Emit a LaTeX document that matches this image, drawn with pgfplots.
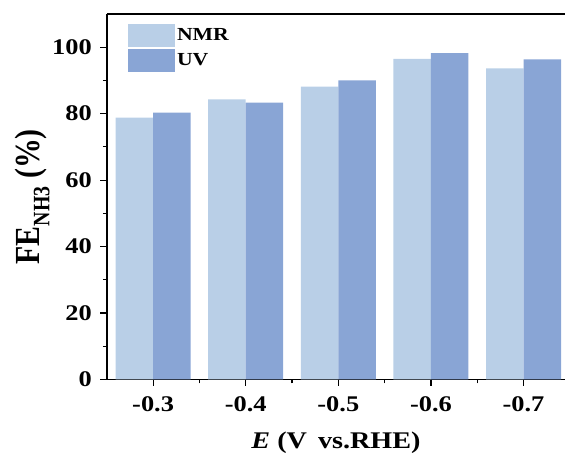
\documentclass[border=0pt]{standalone}
\usepackage{pgfplots}
\pgfplotsset{compat=1.18}
\usepackage{fontspec}
\setmainfont{Liberation Serif}[FakeStretch=1.18]
\newfontfamily\ylabfont{Liberation Serif}
\definecolor{nmr}{HTML}{B9CFE7}
\definecolor{uv}{HTML}{89A5D5}

\pgfplotstableread{
x NMR UV
0 78.8 80.3
1 84.3 83.3
2 88.1 90.0
3 96.5 98.2
4 93.6 96.3
}\fedata

\pgfplotsset{
  sq legend/.style={legend image code/.code={\fill[##1] (0bp,-11.5bp) rectangle (47bp,11.5bp);}}
}

\begin{document}
\begin{tikzpicture}
\begin{axis}[
  scale only axis, width=459bp, height=366bp,
  xmin=-0.5, xmax=4.45, ymin=0, ymax=110,
  axis x line*=bottom, axis y line*=left,
  axis line style={line width=1.6pt, -},
  ybar=0pt, bar width=0.405,
  xtick={0,1,2,3,4},
  xticklabels={-0.3,-0.4,-0.5,-0.6,-0.7},
  minor xtick={0.5,1.5,2.5,3.5},
  ytick={0,20,40,60,80,100},
  minor ytick={10,30,50,70,90},
  tick align=outside,
  major tick length=6.5bp, minor tick length=4bp,
  every tick/.style={black, line width=1.2pt},
  every minor tick/.style={black, line width=1.2pt},
  /pgf/number format/assume math mode=true,
  ticklabel style={font=\bfseries\fontsize{22.5}{22.5}\selectfont},
  xticklabel shift=7bp,
  yticklabel shift=5bp,
  xlabel={\textbf{\textit{E} (V\, vs.RHE)}},
  xlabel style={font=\bfseries\fontsize{24}{24}\selectfont,
    at={(axis description cs:0.5,0)}, anchor=base, yshift=-69bp},
  ylabel={\scalebox{1}[1.18]{\ylabfont\bfseries\fontsize{30}{30}\selectfont FE\raisebox{-0.28em}{\fontsize{20}{20}\selectfont NH3} (\%)}},
  ylabel style={at={(axis description cs:-0.2004,0.5)}, anchor=north, inner sep=0pt},
  legend style={at={(axis description cs:0.046,0.973)}, anchor=north west,
    draw=none, fill=none, row sep=2bp, inner sep=0pt,
    nodes={inner sep=2pt},
    font=\bfseries\fontsize{18.5}{18.5}\selectfont},
  legend cell align=left,
  clip=false,
]
\addplot[fill=nmr, draw=none, sq legend] table[x=x, y=NMR] {\fedata};
\addplot[fill=uv, draw=none, sq legend] table[x=x, y=UV] {\fedata};
\legend{NMR, UV}
\draw[line width=1.6pt] (rel axis cs:0,1) -- (rel axis cs:1,1);
\path (rel axis cs:0,1) ++(-107bp,14bp);
\end{axis}
\end{tikzpicture}
\end{document}
